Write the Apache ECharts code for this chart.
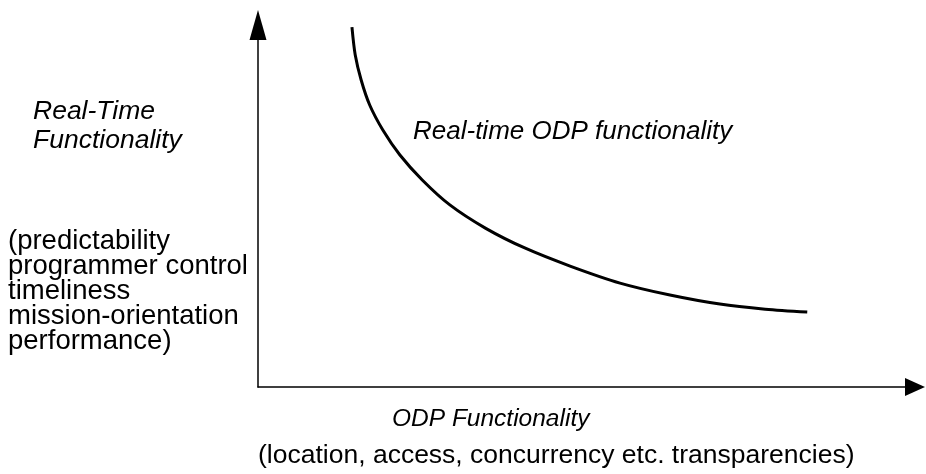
<!DOCTYPE html>
<html>
<head>
<meta charset="utf-8">
<script src="https://cdn.jsdelivr.net/npm/echarts@6/dist/echarts.min.js"></script>
<style>
  html, body { margin: 0; padding: 0; background: #fff; }
  #main { width: 926px; height: 474px; }
</style>
</head>
<body>
<div id="main"></div>
<script>
// curve, both axes scaled 0..100
let odpLevel = [14.3, 14.8, 15.7, 17.0, 19.0, 21.6, 25.0, 29.2, 34.6, 40.6, 47.5, 55.1, 62.7, 70.3, 77.2, 83.6];
let realTimeLevel = [99.4, 91.7, 84.8, 77.9, 71.0, 64.1, 57.2, 50.3, 43.9, 38.4, 33.4, 28.7, 25.4, 22.9, 21.5, 20.7];

let curveName = 'Real-time ODP functionality';
let yTitle = ['Real-Time', 'Functionality'];
let yDetail = ['(predictability', 'programmer control', 'timeliness', 'mission-orientation', 'performance)'];
let xTitle = 'ODP Functionality';
let xDetail = '(location, access, concurrency etc. transparencies)';

let font = 'Liberation Sans, Arial, Helvetica, sans-serif';
let curve = odpLevel.map((x, i) => [x, realTimeLevel[i]]);

function textEl(str, x, y, size, italic) {
    return {
        type: 'text',
        style: {
            text: str,
            x: x,
            y: y,
            fill: '#000',
            font: (italic ? 'italic ' : '') + size + 'px ' + font,
            textVerticalAlign: 'middle'
        }
    };
}

let graphics = [];
yTitle.forEach((s, i) => graphics.push(textEl(s, 33, 112 + i * 29, 26.5, true)));
yDetail.forEach((s, i) => graphics.push(textEl(s, 8, 241 + i * 25, 27.5, false)));
graphics.push(textEl(curveName, 413, 132, 26, true));
graphics.push(textEl(xTitle, 392, 419, 24.5, true));
graphics.push(textEl(xDetail, 258, 456, 26.5, false));

let option = {
    animation: false,
    backgroundColor: '#fff',
    grid: {
        left: 258,
        top: 25,
        right: 11,
        bottom: 87
    },
    xAxis: {
        type: 'value',
        min: 0,
        max: 100,
        axisLine: {
            symbol: ['none', 'triangle'],
            symbolSize: [18, 20],
            lineStyle: { color: '#000', width: 1.5 }
        },
        axisTick: { show: false },
        axisLabel: { show: false },
        splitLine: { show: false }
    },
    yAxis: {
        type: 'value',
        min: 0,
        max: 100,
        axisLine: {
            show: true,
            symbol: ['none', 'triangle'],
            symbolSize: [17, 30],
            lineStyle: { color: '#000', width: 1.5 }
        },
        axisTick: { show: false },
        axisLabel: { show: false },
        splitLine: { show: false }
    },
    series: [{
        name: curveName,
        type: 'line',
        data: curve,
        smooth: 0.3,
        showSymbol: false,
        lineStyle: { color: '#000', width: 3 }
    }],
    graphic: graphics
};

echarts.init(document.getElementById('main')).setOption(option);
</script>
</body>
</html>
